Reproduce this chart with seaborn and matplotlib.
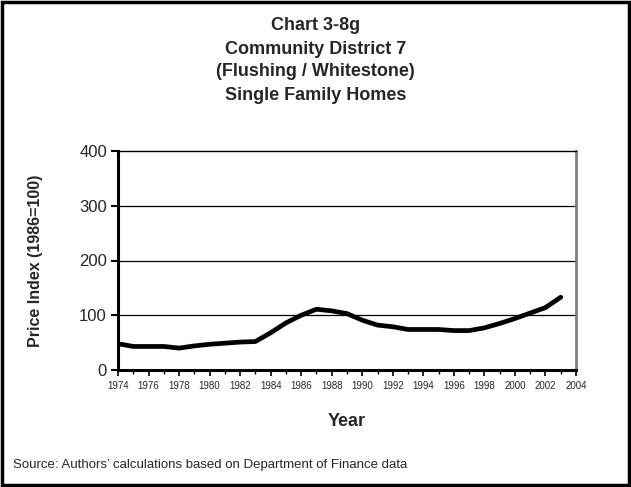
import matplotlib
matplotlib.use("Agg")
import matplotlib.pyplot as plt
import seaborn as sns
import pandas as pd
from matplotlib.patches import Rectangle
from matplotlib.ticker import MultipleLocator

years = list(range(1974, 2004))
price_index = [48, 43, 43, 43, 40, 44, 47, 49, 51, 52, 68, 86, 100, 111, 108, 103,
               91, 82, 79, 74, 74, 74, 72, 72, 77, 85, 94, 104, 114, 133]
x_ticks = list(range(1974, 2005, 2))
y_ticks = [0, 100, 200, 300, 400]
title_lines = ["Chart 3-8g", "Community District 7", "(Flushing / Whitestone)", "Single Family Homes"]

sns.set_style("white")
plt.rcParams['font.family'] = ['Liberation Sans', 'DejaVu Sans']

df = pd.DataFrame({"Year": years, "Index": price_index})

fig = plt.figure(figsize=(6.31, 4.87), dpi=100)
ax = fig.add_axes([118/631, 1-370/487, (576-118)/631, (370-151)/487])

sns.lineplot(data=df, x="Year", y="Index", ax=ax, color="black", linewidth=3.4)

ax.set_xlim(1974, 2004)
ax.set_ylim(0, 400)
ax.set_xticks(x_ticks)
ax.set_xticklabels([str(t) for t in x_ticks], fontsize=7)
ax.xaxis.set_minor_locator(MultipleLocator(1))
ax.set_yticks(y_ticks)
ax.set_yticklabels([str(t) for t in y_ticks], fontsize=12)
for y in [100, 200, 300]:
    ax.axhline(y, color="black", linewidth=0.9, zorder=0)

ax.tick_params(axis="y", which="major", direction="out", length=5, width=1.5, color="black", left=True, pad=3)
ax.tick_params(axis="x", which="major", direction="out", length=4, width=1.2, color="black", bottom=True, pad=4)
ax.tick_params(axis="x", which="minor", direction="out", length=3, width=1.0, color="black", bottom=True)

for side, lw, col in [("left", 2.2, "black"), ("bottom", 2.2, "black"), ("top", 1.0, "black"), ("right", 2.0, "#808080")]:
    ax.spines[side].set_visible(True)
    ax.spines[side].set_linewidth(lw)
    ax.spines[side].set_color(col)

ax.set_xlabel("Year", fontsize=13, fontweight="bold")
ax.xaxis.set_label_coords(0.5, -(421 - 370) / 219, transform=ax.transAxes)
ax.xaxis.label.set_va("center")
ax.set_ylabel("Price Index (1986=100)", fontsize=11.5, fontweight="bold")
ax.yaxis.set_label_coords(-(118 - 36) / 458, 0.5, transform=ax.transAxes)
ax.yaxis.label.set_va("center")

for i, line in enumerate(title_lines):
    fig.text(0.5, 1 - (26 + i * 23) / 487, line, ha="center", va="center", fontsize=13, fontweight="bold")

fig.text(13/631, 1 - 465/487, "Source: Authors\u2019 calculations based on Department of Finance data",
         ha="left", va="center", fontsize=9.5)

fig.patches.append(Rectangle((2/631, 2/487), 627/631, 483/487, transform=fig.transFigure,
                             fill=False, edgecolor="black", linewidth=2.5))

fig.savefig("out.png", dpi=100)
